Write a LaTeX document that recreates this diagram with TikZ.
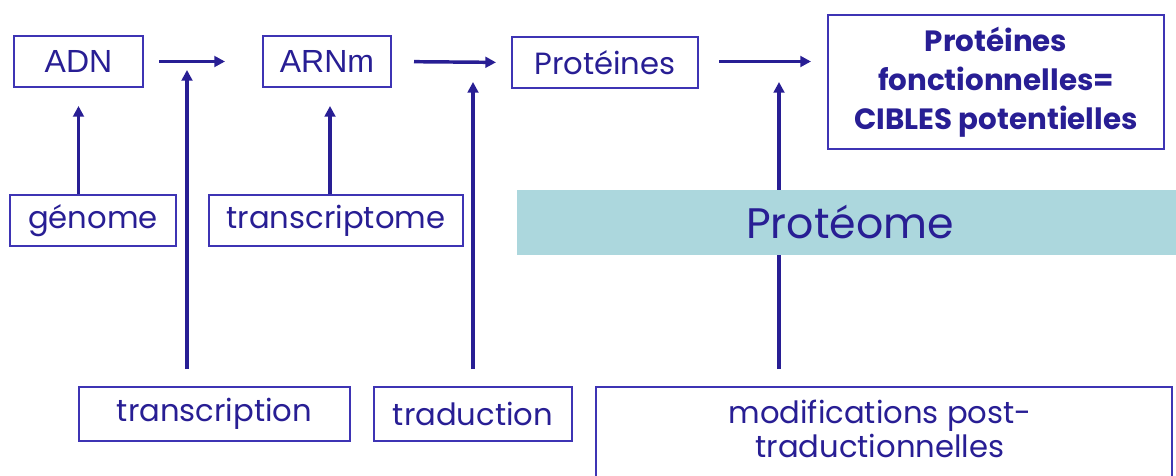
\documentclass[tikz,border=0pt]{standalone}
\usepackage{fontspec}
\setmainfont{Poppins}
\newfontfamily\arialf{Liberation Sans}
\usetikzlibrary{arrows.meta}
\definecolor{dblue}{RGB}{40,30,148}
\definecolor{bblue}{RGB}{62,52,180}
\definecolor{bandc}{RGB}{172,215,221}
\begin{document}
\begin{tikzpicture}[x=0.75pt,y=-0.75pt,
  box/.style={draw=bblue,line width=1.5pt,text=dblue,inner sep=0pt,align=center},
  lbl/.style={font=\fontsize{23}{27}\selectfont},
  arr/.style={draw=dblue,line width=2.6pt,-{Triangle[length=8pt,width=8pt]}}]
\useasboundingbox (0,0) rectangle (1176,475);
\clip (0,0) rectangle (1176,475);
\fill[white] (0,0) rectangle (1176,475);
% top row
\node[box,minimum width=129*0.75pt,minimum height=51*0.75pt,font=\arialf\fontsize{24}{28}\selectfont] (adn) at (78.5,61.5) {ADN};
\node[box,minimum width=128*0.75pt,minimum height=51*0.75pt,font=\arialf\fontsize{24}{28}\selectfont] (arnm) at (327,61.5) {ARNm};
\node[box,lbl,minimum width=186*0.75pt,minimum height=51*0.75pt] (prot) at (605,62.5) {Protéines};
\node[box,minimum width=336*0.75pt,minimum height=134*0.75pt,font=\bfseries\fontsize{22}{29}\selectfont] (cible) at (996,82) {Protéines\\fonctionnelles=\\CIBLES potentielles};
% second row
\node[box,lbl,minimum width=166*0.75pt,minimum height=51*0.75pt] (genome) at (93,220.5) {génome};
\node[box,lbl,minimum width=254*0.75pt,minimum height=51*0.75pt] (transcriptome) at (336,220.5) {transcriptome};
% bottom row
\node[box,lbl,minimum width=271*0.75pt,minimum height=54*0.75pt] (transcription) at (214.5,414) {transcription};
\node[box,lbl,minimum width=198*0.75pt,minimum height=54*0.75pt] (traduction) at (473,414) {traduction};
\node[box,minimum width=576*0.75pt,minimum height=110*0.75pt] (modif) at (884,442) {};
\node[text=dblue,font=\fontsize{23}{26}\selectfont,align=center] (modiftxt) at (880,429) {modifications post-\\traductionnelles};
% coordinates for arrow tips
\coordinate (t1) at (187,70);
\coordinate (t2) at (473,82);
\coordinate (t3) at (779,82);
% horizontal arrows
\draw[arr,shorten <=15*0.75pt,shorten >=37*0.75pt] (adn.east) -- (arnm.west);
\draw[arr,shorten <=22*0.75pt,shorten >=15*0.75pt] (arnm.east) -- (prot.west);
\draw[arr,shorten <=20*0.75pt,shorten >=16*0.75pt] (prot.east |- adn.east) -- (cible.west |- adn.east);
% vertical arrows
\draw[arr,shorten >=18*0.75pt] (genome.north -| adn.south) -- (adn.south);
\draw[arr,shorten >=18*0.75pt] ([xshift=-6*0.75pt]transcriptome.north) -- ([xshift=3*0.75pt]arnm.south);
\draw[arr,shorten <=17*0.75pt] (transcription.north -| t1) -- (t1);
\draw[arr,shorten <=17*0.75pt] (traduction.north) -- (t2);
\draw[arr,shorten <=17*0.75pt] (modif.north -| t3) -- (t3);
% proteome band
\fill[bandc] (517,190) rectangle (1176,255);
\node[text=dblue,font=\fontsize{32}{36}\selectfont] (proteome) at (850,222) {Protéome};
\end{tikzpicture}
\end{document}
